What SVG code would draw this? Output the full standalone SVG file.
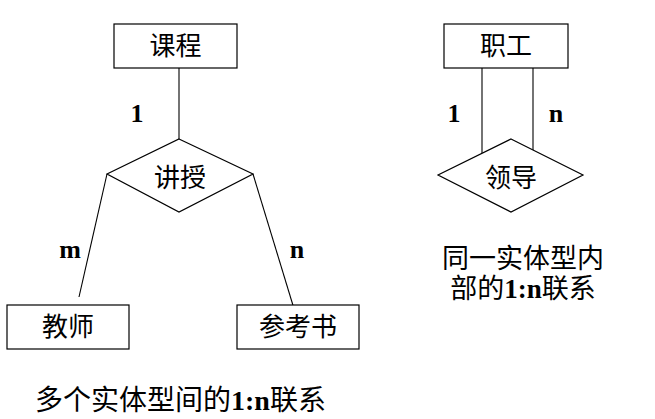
<svg xmlns="http://www.w3.org/2000/svg" width="655" height="419" viewBox="0 0 655 419">
<style>
.box{fill:#fff;stroke:#000;stroke-width:1.2}
.ln{fill:none;stroke:#000;stroke-width:1.1}
.cjk{font-family:"Noto Sans CJK SC","Noto Sans CJK JP",sans-serif;font-size:26px;fill:#000;text-anchor:middle}
.num{font-family:"Liberation Serif",serif;font-weight:bold;font-size:26px;fill:#000;text-anchor:middle}
.cap{font-family:"Noto Sans CJK SC",sans-serif;font-size:28px;fill:#000}
.capn{font-family:"Liberation Serif",serif;font-weight:bold}
</style>
<rect width="655" height="419" fill="#fff"/>
<g id="connectors">
<line class="ln" x1="179" y1="68" x2="179" y2="139"/>
<line class="ln" x1="107" y1="174" x2="79" y2="297"/>
<line class="ln" x1="253" y1="174" x2="295" y2="312"/>
<line class="ln" x1="482" y1="68" x2="482" y2="153"/>
<line class="ln" x1="533" y1="68" x2="533" y2="154"/>
</g>
<g id="kecheng">
<rect class="box" x="114" y="24" width="123" height="44"/>
<text class="cjk" x="175.5" y="55">课程</text>
</g>
<g id="jiangshou">
<polygon class="box" points="179,139 253,174 179,212 107,174"/>
<text class="cjk" x="180" y="187">讲授</text>
</g>
<g id="jiaoshi">
<rect class="box" x="7" y="305" width="122" height="44"/>
<text class="cjk" x="68" y="336">教师</text>
</g>
<g id="cankaoshu">
<rect class="box" x="237" y="305" width="122" height="44"/>
<text class="cjk" x="298" y="336">参考书</text>
</g>
<g id="zhigong">
<rect class="box" x="444" y="24" width="124" height="44"/>
<text class="cjk" x="506" y="55">职工</text>
</g>
<g id="lingdao">
<polygon class="box" points="511,139 583,175 511,212 438,175"/>
<text class="cjk" x="511" y="187">领导</text>
</g>
<g id="labels">
<text class="num" x="137" y="122">1</text>
<text class="num" x="70" y="258">m</text>
<text class="num" x="297" y="258">n</text>
<text class="num" x="454" y="122">1</text>
<text class="num" x="556" y="122">n</text>
<text class="cap" x="35" y="410">多个实体型间的<tspan class="capn">1:n</tspan>联系</text>
<text class="cap" x="523" y="268" text-anchor="middle" style="font-size:27px">同一实体型内</text>
<text class="cap" x="523" y="298" text-anchor="middle" style="font-size:27px">部的<tspan class="capn">1:n</tspan>联系</text>
</g>
</svg>
